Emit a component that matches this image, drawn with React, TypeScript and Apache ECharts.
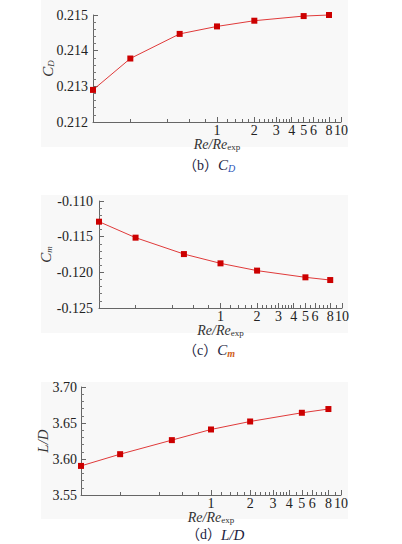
import React, { useEffect, useRef } from "react";
import * as echarts from "echarts";

const reRatio = [0.1, 0.2, 0.5, 1, 2, 5, 8];
const cdValues = [0.2129, 0.21378, 0.21447, 0.21468, 0.21484, 0.21497, 0.215];
const cmValues = [-0.1129, -0.11514, -0.11744, -0.11874, -0.11976, -0.1207, -0.12108];
const ldValues = [3.5904, 3.6067, 3.6262, 3.641, 3.6521, 3.6642, 3.6694];
const xTickLabels = [1, 2, 3, 4, 5, 6, 8, 10];
const xMinorTicks = [0.2, 0.4, 0.6, 0.8, 1.2, 1.4, 1.6, 1.8, 2.2, 2.4, 2.6, 2.8, 3.2, 3.4, 3.6, 3.8, 4.5, 5.5, 6.5, 7, 7.5, 9];

const SERIF = "Liberation Serif, Times New Roman, serif";
const CAPFONT = "Liberation Serif, Noto Sans CJK SC, serif";

const panels = [
  {
    values: cdValues, min: 0.212, max: 0.215, interval: 0.001, digits: 3,
    left: 93, right: 61, top: 15, height: 107, labelMargin: 5, nameGap: 38,
    yName: "{i|C}{s|D}", bgTop: 0, bgBottom: 147,
    caption: "{p|（b）}{i|C}{sb|D}", capX: 183, capY: 157,
  },
  {
    values: cmValues, min: -0.125, max: -0.11, interval: 0.005, digits: 3,
    left: 99, right: 60, top: 201, height: 107, labelMargin: 6, nameGap: 46,
    yName: "{i|C}{s|m}", bgTop: 195, bgBottom: 333,
    caption: "{p|（c）}{i|C}{sm|m}", capX: 183, capY: 342,
  },
  {
    values: ldValues, min: 3.55, max: 3.7, interval: 0.05, digits: 2,
    left: 81, right: 61, top: 387, height: 108, labelMargin: 4, nameGap: 31,
    yName: "{i|L/D}", bgTop: 382, bgBottom: 519,
    caption: "{p|（d）}{i|L/D}", capX: 186, capY: 527,
  },
];

export default function App() {
  const ref = useRef<HTMLDivElement>(null);
  useEffect(() => {
    if (!ref.current) return;
    const chart = echarts.init(ref.current, null, { renderer: "svg" });
    const lg = (v: number) => Math.log10(v);
    const grid: any[] = [];
    const xAxis: any[] = [];
    const yAxis: any[] = [];
    const series: any[] = [];
    const graphic: any[] = [];
    panels.forEach((p, i) => {
      graphic.push({
        type: "rect", z: -10, silent: true,
        shape: { x: 41, y: p.bgTop, width: 307, height: p.bgBottom - p.bgTop },
        style: { fill: "#f8f8f8" },
      });
      graphic.push({
        type: "text", x: p.capX, y: p.capY,
        style: {
          text: p.caption,
          rich: {
            p: { fontFamily: CAPFONT, fontSize: 14, fill: "#1c2340" },
            i: { fontFamily: SERIF, fontSize: 15, fontStyle: "italic", fill: "#1c2340" },
            sb: { fontFamily: SERIF, fontSize: 10, fontStyle: "italic", fill: "#2a56b8", padding: [6, 0, 0, 0] },
            sm: { fontFamily: SERIF, fontSize: 10, fontStyle: "italic", fontWeight: "bold", fill: "#d0601a", padding: [6, 0, 0, 0] },
          },
        },
      });
      grid.push({ left: p.left, right: p.right, top: p.top, height: p.height });
      const common = {
        gridIndex: i, type: "value", min: -1, max: 1, position: "bottom", offset: 0,
        splitLine: { show: false },
      };
      xAxis.push({
        ...common,
        name: "{i|Re/Re}{s|exp}",
        nameLocation: "middle",
        nameGap: 15,
        nameMoveOverlap: false,
        nameTextStyle: {
          rich: {
            i: { fontFamily: SERIF, fontSize: 14, fontStyle: "italic", color: "#333" },
            s: { fontFamily: SERIF, fontSize: 9, color: "#333", padding: [5, 0, 0, 0] },
          },
        },
        axisLine: { show: true, onZero: false, lineStyle: { color: "#666", width: 1 } },
        axisTick: { show: true, inside: true, length: 3, customValues: xMinorTicks.map(lg), lineStyle: { color: "#666" } },
        axisLabel: {
          customValues: xTickLabels.map(lg),
          formatter: (v: number) => String(Math.round(Math.pow(10, v))),
          fontFamily: SERIF, fontSize: 14, color: "#222", margin: 1,
        },
      });
      xAxis.push({
        ...common,
        axisLine: { show: false, onZero: false },
        axisLabel: { show: false },
        axisTick: { show: true, inside: true, length: 5, customValues: xTickLabels.map(lg), lineStyle: { color: "#666" } },
      });
      yAxis.push({
        gridIndex: i, type: "value", min: p.min, max: p.max, interval: p.interval, position: "left",
        splitLine: { show: false },
        name: p.yName,
        nameLocation: "middle",
        nameRotate: 90,
        nameGap: p.nameGap,
        nameMoveOverlap: false,
        nameTextStyle: {
          rich: {
            i: { fontFamily: SERIF, fontSize: 15, fontStyle: "italic", color: "#333" },
            s: { fontFamily: SERIF, fontSize: 9, fontStyle: "italic", color: "#333", padding: [6, 0, 0, 0] },
          },
        },
        axisLine: { show: true, onZero: false, lineStyle: { color: "#666", width: 1 } },
        axisTick: { show: true, inside: true, length: 5, lineStyle: { color: "#666" } },
        minorTick: { show: true, splitNumber: 5, length: 3, lineStyle: { color: "#777" } },
        axisLabel: {
          fontFamily: SERIF, fontSize: 14, color: "#222", margin: p.labelMargin,
          formatter: (v: number) => v.toFixed(p.digits),
        },
      });
      series.push({
        type: "line",
        xAxisIndex: 2 * i,
        yAxisIndex: i,
        data: reRatio.map((x, k) => [lg(x), p.values[k]]),
        symbol: "rect",
        symbolSize: 6,
        clip: false,
        lineStyle: { color: "#e03a3a", width: 1 },
        itemStyle: { color: "#cc0000" },
      });
    });
    chart.setOption({
      animation: false,
      backgroundColor: "#ffffff",
      grid, xAxis, yAxis, series, graphic,
    });
    return () => chart.dispose();
  }, []);
  return (
    <div
      ref={ref}
      style={{ position: "fixed", left: 0, top: 0, width: 402, height: 544, background: "#fff" }}
    />
  );
}
